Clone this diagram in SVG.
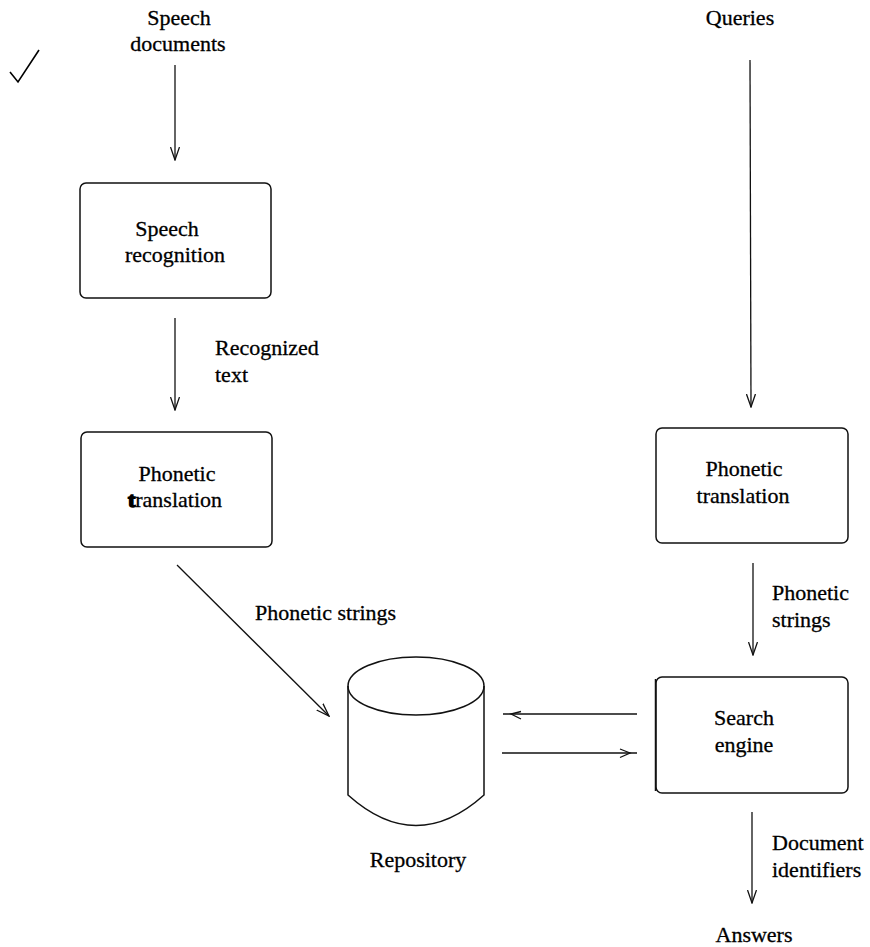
<svg xmlns="http://www.w3.org/2000/svg" width="870" height="947" viewBox="0 0 870 947">
<defs>
<style>
text{font-family:"Liberation Serif","Times New Roman","DejaVu Serif",serif;font-size:22px;fill:#000;stroke:#000;stroke-width:0.3}
.c{text-anchor:middle}
.box{fill:none;stroke:#111;stroke-width:1.5}
.ln{fill:none;stroke:#111;stroke-width:1.3}
</style>
<marker id="ah" viewBox="0 0 14 10" refX="13" refY="5" markerWidth="14" markerHeight="10" orient="auto" markerUnits="userSpaceOnUse">
<path d="M0,0.5 L13,5 L0,9.5" fill="none" stroke="#111" stroke-width="1.3"/>
</marker>
</defs>
<rect width="870" height="947" fill="#fff"/>

<path id="check" d="M10,72 L18,82 L39,50" fill="none" stroke="#000" stroke-width="1.6"/>

<g id="speech-docs"><text class="c" x="179" y="25">Speech</text><text class="c" x="178" y="51">documents</text></g>
<g id="queries"><text class="c" x="740" y="25">Queries</text></g>

<g id="speech-recognition">
<rect class="box" x="80" y="183" width="191" height="115" rx="6"/>
<text class="c" x="167" y="236">Speech</text><text class="c" x="175" y="262">recognition</text>
</g>

<g id="phonetic-left">
<rect class="box" x="81" y="432" width="191" height="115" rx="6"/>
<text class="c" x="177" y="481">Phonetic</text><text class="c" x="175" y="507"><tspan font-weight="bold" stroke-width="1.6">t</tspan>ranslation</text>
</g>

<g id="phonetic-right">
<rect class="box" x="656" y="428" width="192" height="115" rx="6"/>
<text class="c" x="744" y="476">Phonetic</text><text class="c" x="743" y="503">translation</text>
</g>

<g id="search-engine">
<rect class="box" x="656" y="677" width="192" height="116" rx="6"/>
<line class="box" x1="655.5" y1="679" x2="655.5" y2="791"/>
<text class="c" x="744" y="725">Search</text><text class="c" x="744" y="752">engine</text>
</g>

<g id="repository">
<path class="box" d="M348,686 L348,795 Q416,856 484,795 L484,686"/>
<ellipse class="box" cx="416" cy="686" rx="68" ry="29"/>
<text class="c" x="418" y="867">Repository</text>
</g>

<g id="answers"><text class="c" x="754" y="942">Answers</text></g>

<g id="connectors">
<line class="ln" x1="175" y1="65" x2="175" y2="160" marker-end="url(#ah)"/>
<line class="ln" x1="175" y1="318" x2="175" y2="410" marker-end="url(#ah)"/>
<line class="ln" x1="177" y1="565" x2="329" y2="716" marker-end="url(#ah)"/>
<line class="ln" x1="750" y1="60" x2="751" y2="407" marker-end="url(#ah)"/>
<line class="ln" x1="753" y1="563" x2="753" y2="655" marker-end="url(#ah)"/>
<line class="ln" x1="752" y1="812" x2="752" y2="903" marker-end="url(#ah)"/>
<line class="ln" x1="503" y1="714" x2="637" y2="714"/>
<path class="ln" d="M521,711.5 L511,714 L521,719"/>
<line class="ln" x1="502" y1="753" x2="637" y2="753"/>
<path class="ln" d="M620,749 L630,753 L620,757.5"/>
<text x="215" y="355">Recognized</text><text x="215" y="382">text</text>
<text x="255" y="620">Phonetic strings</text>
<text x="772" y="600">Phonetic</text><text x="772" y="627">strings</text>
<text x="772" y="850">Document</text><text x="772" y="877">identifiers</text>
</g>
</svg>
